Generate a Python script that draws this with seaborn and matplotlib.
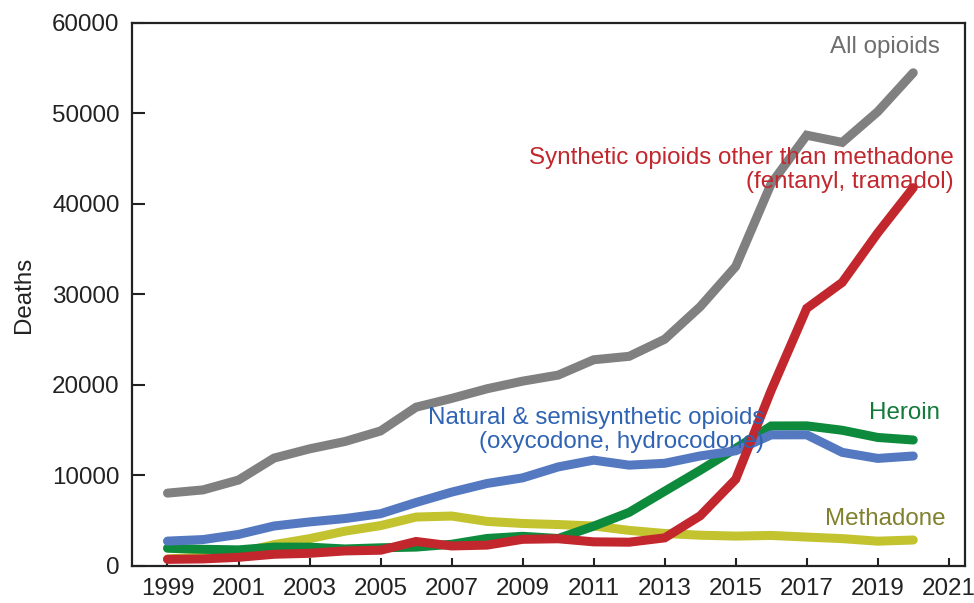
import numpy as np
import pandas as pd
import matplotlib
matplotlib.use("Agg")
import matplotlib.pyplot as plt
import seaborn as sns

# opioid overdose deaths by type, 1999-2020
years = list(range(1999, 2021))
all_opioids = [8050, 8407, 9496, 11920, 12940, 13756, 14918, 17545, 18516, 19582, 20422,
               21089, 22784, 23166, 25052, 28647, 33091, 42249, 47600, 46802, 50200, 54500]
synthetic = [730, 782, 957, 1295, 1400, 1664, 1742, 2707, 2213, 2306, 2946,
             3007, 2666, 2628, 3105, 5544, 9580, 19413, 28466, 31335, 36800, 41800]
natural = [2749, 2917, 3484, 4416, 4867, 5242, 5774, 7017, 8158, 9119, 9735,
           10943, 11693, 11140, 11346, 12159, 12727, 14487, 14495, 12552, 11886, 12150]
heroin = [1960, 1842, 1779, 2089, 2080, 1878, 2009, 2088, 2399, 3041, 3278,
          3036, 4397, 5925, 8257, 10574, 12989, 15469, 15482, 14996, 14200, 13920]
methadone = [784, 986, 1456, 2358, 3020, 3849, 4460, 5406, 5518, 4924, 4696,
             4577, 4418, 3932, 3591, 3400, 3301, 3373, 3194, 3023, 2740, 2870]

series_names = ["All opioids", "Synthetic", "Natural", "Heroin", "Methadone"]
series_vals = [all_opioids, synthetic, natural, heroin, methadone]
line_colors = ["#808080", "#C1272D", "#5479C1", "#0E8A3C", "#C3C32F"]
# draw order: bottom to top like the reference
draw_order = ["Methadone", "Heroin", "Natural", "Synthetic", "All opioids"]

x_ticks = list(range(1999, 2022, 2))
y_ticks = list(range(0, 60001, 10000))

# long form frame for seaborn
df = pd.concat([
    pd.DataFrame({"year": years, "deaths": v, "series": n})
    for n, v in zip(series_names, series_vals)
])
df["series"] = pd.Categorical(df["series"], categories=draw_order, ordered=True)
df = df.sort_values(["series", "year"])

sns.set_style("ticks")
plt.rcParams["font.family"] = ["Liberation Sans", "DejaVu Sans"]

fig = plt.figure(figsize=(9.74, 6.03), dpi=100)
ax = fig.add_axes([0.1355, 0.0614, 0.855, 0.9005])

palette = dict(zip(series_names, line_colors))
sns.lineplot(data=df, x="year", y="deaths", hue="series", hue_order=draw_order,
             palette=palette, linewidth=6.5, ax=ax, legend=False, sort=False)
for ln in ax.get_lines():
    ln.set_solid_capstyle("round")
    ln.set_solid_joinstyle("miter")

ax.set_xlim(1998, 2021.45)
ax.set_ylim(0, 60000)
ax.set_xticks(x_ticks)
ax.set_yticks(y_ticks)
ax.tick_params(axis="both", direction="in", labelsize=17.4, width=1.5, colors="#222222",
               labelcolor="#222222")
ax.tick_params(axis="y", length=9, pad=9)
ax.tick_params(axis="x", length=6, pad=9)
for s in ax.spines.values():
    s.set_linewidth(1.6)
    s.set_color("#222222")
ax.set_xlabel("")
ax.set_ylabel("Deaths", fontsize=17.4, color="#222222", labelpad=12)

# inline series labels
lab_size = 17.4
ax.text(2020.75, 57350, "All opioids", ha="right", va="center", fontsize=lab_size, color="#6E6E6E")
ax.text(2021.14, 43760, "Synthetic opioids other than methadone\n(fentanyl, tramadol)",
        ha="right", va="center", fontsize=lab_size, color="#C1272D", linespacing=1.1)
ax.text(2015.8, 15030, "Natural & semisynthetic opioids\n(oxycodone, hydrocodone)",
        ha="right", va="center", fontsize=lab_size, color="#2F63B3", linespacing=1.1)
ax.text(2020.75, 16900, "Heroin", ha="right", va="center", fontsize=lab_size, color="#127A3A")
ax.text(2020.9, 5190, "Methadone", ha="right", va="center", fontsize=lab_size, color="#80802F")

fig.savefig("out.png", dpi=100)
